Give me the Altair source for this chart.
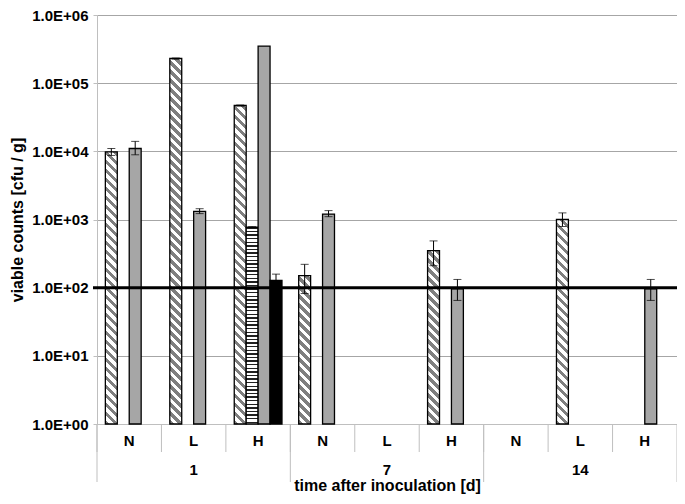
import math
import altair as alt

# ---------------- data ----------------
days = ["1", "7", "14"]
levels = ["N", "L", "H"]
keys = [f"{d}|{l}" for d in days for l in levels]
series = ["A", "B", "C", "D"]

# series A: diagonal hatch, B: horizontal stripes, C: gray, D: black
A_val = [9.8e3, 2.3e5, 4.7e4, 1.5e2, None, 3.5e2, None, 1.0e3, None]
A_lo = [8.7e3, 2.26e5, 4.62e4, 8.2e1, None, 2.1e2, None, 7.9e2, None]
A_hi = [1.1e4, 2.34e5, 4.78e4, 2.2e2, None, 4.85e2, None, 1.25e3, None]

B_val = [None, None, 7.7e2, None, None, None, None, None, None]
B_lo = [None, None, 7.55e2, None, None, None, None, None, None]
B_hi = [None, None, 7.85e2, None, None, None, None, None, None]

C_val = [1.1e4, 1.32e3, 3.5e5, 1.2e3, None, 9.6e1, None, None, 9.6e1]
C_lo = [8.9e3, 1.22e3, None, 1.1e3, None, 6.5e1, None, None, 6.5e1]
C_hi = [1.4e4, 1.44e3, None, 1.35e3, None, 1.32e2, None, None, 1.32e2]

D_val = [None, None, 1.28e2, None, None, None, None, None, None]
D_lo = [None, None, 1.0e2, None, None, None, None, None, None]
D_hi = [None, None, 1.58e2, None, None, None, None, None, None]

threshold = [100]

# ---------------- layout ----------------
W = 580
H = 409
YMIN, YMAX = 1, 1e6
PAD_OUTER = 0.7
BAR_W = (W / len(keys)) / (len(series) + 2 * PAD_OUTER)
FONT = "Liberation Sans"


def bar_px(v):
    return H * (math.log10(v) - math.log10(YMIN)) / (math.log10(YMAX) - math.log10(YMIN))


def diag_fill(v, period=9.0, frac=0.5, c1="#7f7f7f", c2="#ffffff"):
    h = max(bar_px(v), 1.0)
    w = BAR_W
    t = (w + h) / (w * w + h * h)
    L = w + h
    dp = period / L
    stops = []
    k = 0
    while k * dp < 1:
        a = k * dp
        b = min(a + frac * dp, 1.0)
        c = min(a + dp, 1.0)
        stops += [{"offset": a, "color": c1}, {"offset": b, "color": c1},
                  {"offset": b, "color": c2}, {"offset": c, "color": c2}]
        k += 1
    return {"gradient": "linear", "x1": 0, "y1": 1, "x2": w * t, "y2": 1 - h * t,
            "stops": stops}


def horiz_fill(v, period=3.6, frac=0.38, c1="#222222", c2="#ffffff"):
    h = max(bar_px(v), 1.0)
    dp = period / h
    stops = []
    k = 0
    while k * dp < 1:
        a = k * dp
        b = min(a + frac * dp, 1.0)
        c = min(a + dp, 1.0)
        stops += [{"offset": a, "color": c1}, {"offset": b, "color": c1},
                  {"offset": b, "color": c2}, {"offset": c, "color": c2}]
        k += 1
    return {"gradient": "linear", "x1": 0, "y1": 0, "x2": 0, "y2": 1, "stops": stops}


bar_rows, err_rows, cap_rows = [], [], []
spec = [("A", A_val, A_lo, A_hi), ("B", B_val, B_lo, B_hi),
        ("C", C_val, C_lo, C_hi), ("D", D_val, D_lo, D_hi)]
for s, vals, los, his in spec:
    for k, v, lo, hi in zip(keys, vals, los, his):
        if v is None:
            continue
        if s == "A":
            f = diag_fill(v)
        elif s == "B":
            f = horiz_fill(v)
        elif s == "C":
            f = "#a6a6a6"
        else:
            f = "#000000"
        bar_rows.append({"key": k, "series": s, "v": v, "fill": f})
        if lo is not None and hi is not None:
            err_rows.append({"key": k, "series": s, "lo": lo, "hi": hi})
            cap_rows.append({"key": k, "series": s, "e": lo})
            cap_rows.append({"key": k, "series": s, "e": hi})

# ---------------- scales / axes ----------------
x_scale = alt.Scale(domain=keys, paddingInner=0, paddingOuter=0)
xo_scale = alt.Scale(domain=series, paddingInner=0, paddingOuter=PAD_OUTER)
y_scale = alt.Scale(type="log", domain=[YMIN, YMAX], nice=False)

x_axis = alt.Axis(
    title="time after inoculation [d]",
    labelExpr="split(datum.value, '|')[1]",
    labelAngle=0, ticks=False, tickSize=0, labelPadding=9,
    labelFont=FONT, labelFontSize=15, labelFontWeight="bold", labelColor="#000000",
    domainColor="#bfbfbf", domainWidth=1,
    titleFont=FONT, titleFontSize=16, titleFontWeight="bold", titleColor="#000000",
    titlePadding=29,
)
y_axis = alt.Axis(
    title="viable counts [cfu / g]",
    values=[1, 10, 100, 1000, 10000, 100000, 1000000],
    labelExpr="'1.0E+0' + round(log(datum.value) / LN10)",
    grid=True, gridColor="#a6a6a6", gridWidth=1,
    domainColor="#bfbfbf", tickColor="#bfbfbf", tickSize=4,
    labelFont=FONT, labelFontSize=15, labelFontWeight="bold", labelColor="#000000",
    labelPadding=5,
    titleFont=FONT, titleFontSize=16, titleFontWeight="bold", titleColor="#000000",
    titlePadding=6,
)

X = alt.X("key:N", scale=x_scale, axis=x_axis)
XO = alt.XOffset("series:N", scale=xo_scale)

bars = alt.Chart(alt.Data(values=bar_rows)).mark_bar(
    stroke="#000000", strokeWidth=1.3
).encode(
    x=X, xOffset=XO,
    y=alt.Y("v:Q", scale=y_scale, axis=y_axis),
    y2=alt.datum(1),
    fill=alt.Fill("fill:N", scale=None),
)

errs = alt.Chart(alt.Data(values=err_rows)).mark_rule(
    color="#000000", strokeWidth=1
).encode(
    x=X, xOffset=XO,
    y=alt.Y("lo:Q", scale=y_scale, axis=y_axis),
    y2="hi:Q",
)

caps = alt.Chart(alt.Data(values=cap_rows)).mark_tick(
    color="#000000", thickness=1, size=8, orient="horizontal"
).encode(
    x=X, xOffset=XO,
    y=alt.Y("e:Q", scale=y_scale, axis=y_axis),
)

ref = alt.Chart(alt.Data(values=[{"t": t} for t in threshold])).mark_rule(
    color="#000000", strokeWidth=3
).encode(
    y=alt.Y("t:Q", scale=y_scale, axis=y_axis),
    x=alt.value(-4), x2=alt.value(W),
)

# table separators under the x axis
short_sep = alt.Chart(alt.Data(values=[{"key": k} for k in keys])).mark_rule(
    color="#bfbfbf", strokeWidth=1
).encode(
    x=alt.X("key:N", scale=x_scale, axis=x_axis, bandPosition=0),
    y=alt.value(H), y2=alt.value(H + 28),
)
long_sep = alt.Chart(alt.Data(values=[{"key": f"{d}|N"} for d in days])).mark_rule(
    color="#bfbfbf", strokeWidth=1
).encode(
    x=alt.X("key:N", scale=x_scale, axis=x_axis, bandPosition=0),
    y=alt.value(H), y2=alt.value(H + 58),
)
end_sep = alt.Chart(alt.Data(values=[{"key": keys[-1]}])).mark_rule(
    color="#bfbfbf", strokeWidth=1
).encode(
    x=alt.X("key:N", scale=x_scale, axis=x_axis, bandPosition=1),
    y=alt.value(H), y2=alt.value(H + 58),
)
day_labels = alt.Chart(alt.Data(values=[{"key": f"{d}|L", "day": d} for d in days])).mark_text(
    font=FONT, fontSize=15, fontWeight="bold", color="#000000", baseline="middle"
).encode(
    x=alt.X("key:N", scale=x_scale, axis=x_axis),
    y=alt.value(H + 46),
    text="day:N",
)

chart = alt.layer(
    bars, errs, caps, ref, short_sep, long_sep, end_sep, day_labels
).properties(
    width=W, height=H,
    autosize=alt.AutoSizeParams(type="none"),
    padding={"left": 89, "top": 7, "right": 0, "bottom": 72},
).configure_view(stroke=None).configure(background="#ffffff")

chart.save("out.html", embed_options={"renderer": "svg", "actions": False})
